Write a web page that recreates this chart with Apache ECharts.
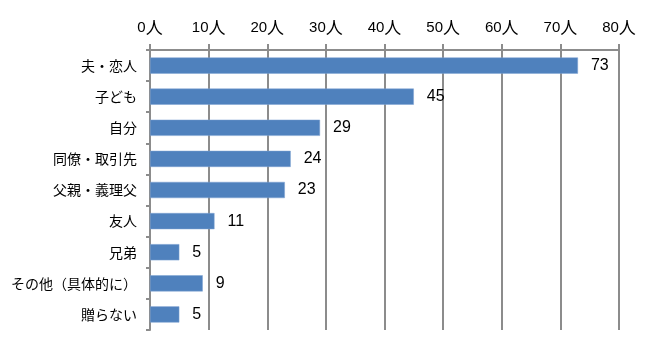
<!DOCTYPE html>
<html><head><meta charset="utf-8">
<script src="https://cdn.jsdelivr.net/npm/echarts@6/dist/echarts.min.js"></script>
<style>html,body{margin:0;padding:0;background:#fff}#c{width:660px;height:354px}</style>
</head><body><div id="c"></div>
<script>
const categories = ['夫・恋人','子ども','自分','同僚・取引先','父親・義理父','友人','兄弟','その他（具体的に）','贈らない'];
const values = [73,45,29,24,23,11,5,9,5];
const axisMax = 80;
const axisStep = 10;
const unit = '人';
const cjk = '"Noto Sans CJK JP", sans-serif';
const latin = '"Liberation Sans", sans-serif';
const chart = echarts.init(document.getElementById('c'));
chart.setOption({
  animation:false,
  grid:{left:150,right:41,top:50,bottom:24,containLabel:false},
  xAxis:{type:'value',position:'top',min:0,max:axisMax,interval:axisStep,
    axisLabel:{formatter:v=>'{n|'+v+'}{u|'+unit+'}',margin:14,
      rich:{n:{fontSize:15,fontFamily:latin,color:'#000'},u:{fontSize:17,fontFamily:cjk,color:'#000'}}},
    axisLine:{show:true,lineStyle:{color:'#8c8c8c',width:2}},
    axisTick:{show:true,length:6,lineStyle:{color:'#8c8c8c',width:2}},
    splitLine:{show:true,lineStyle:{color:'#8c8c8c',width:2}}},
  yAxis:{type:'category',inverse:true,data:categories,
    axisLabel:{color:'#000',fontSize:14,fontFamily:cjk,margin:13},
    axisLine:{show:true,lineStyle:{color:'#8c8c8c',width:2}},
    axisTick:{show:true,length:4,lineStyle:{color:'#8c8c8c',width:2}},
    splitLine:{show:false}},
  series:[{type:'bar',data:values,barCategoryGap:'48%',
    itemStyle:{color:'#4F81BD',borderColor:'#7fa3d3',borderWidth:0.5},
    label:{show:true,position:'right',distance:13,color:'#000',fontSize:16,fontFamily:latin}}]
});
</script></body></html>
